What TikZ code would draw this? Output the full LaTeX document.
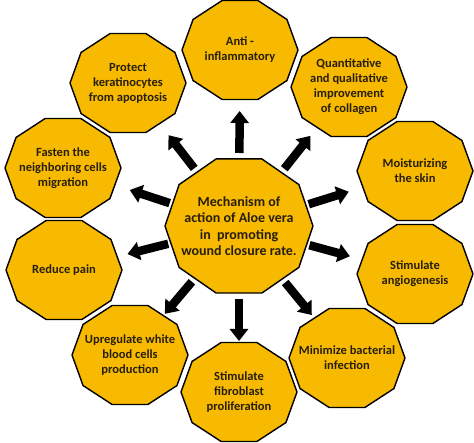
\documentclass[tikz,border=0pt]{standalone}
\usepackage{fontspec}
\setmainfont{Carlito}
\usetikzlibrary{arrows.meta,calc,backgrounds}
\definecolor{gold}{RGB}{247,186,0}
\definecolor{txt}{RGB}{40,30,12}
\begin{document}
\begin{tikzpicture}[x=1pt,y=-1pt,
  lbl/.style={align=center,font=\bfseries\fontsize{12.5}{15}\selectfont,text=txt},
  clbl/.style={align=center,font=\bfseries\fontsize{14}{16.4}\selectfont,text=txt},
  deca/.style={fill=gold,draw=black,line width=1.4pt,line join=miter},
  arr/.style={line width=8.5pt,-{Triangle[width=18pt,length=12pt]}}]
\useasboundingbox (0,0) rectangle (474,443);
\node[clbl] (c) at (239,226) {Mechanism of\\action of Aloe vera\\in \ promoting\\wound closure rate.};
\node[lbl] (anti) at (240,50) {Anti -\\inflammatory};
\node[lbl] (quant) at (349,87) {Quantitative\\and qualitative\\improvement\\of collagen};
\node[lbl] (moist) at (415,171) {Moisturizing\\the skin};
\node[lbl] (angio) at (415,274) {Stimulate\\angiogenesis};
\node[lbl] (bact) at (347,358) {Minimize bacterial\\infection};
\node[lbl] (fibro) at (239,392) {Stimulate\\fibroblast\\proliferation};
\node[lbl] (wbc) at (130,355) {Upregulate white\\blood cells\\production};
\node[lbl] (pain) at (64,270) {Reduce pain};
\node[lbl] (migr) at (63,168) {Fasten the\\neighboring cells\\migration};
\node[lbl] (prot) at (128,83) {Protect\\keratinocytes\\from apoptosis};
\begin{scope}[on background layer]
\foreach \n/\rx/\ry in {c/74/70.5,anti/58/52,quant/58/52,moist/58/52,angio/58/52,bact/58/52,fibro/58/52,wbc/58/52,pain/58/52,migr/58/52,prot/58/52}
  \draw[deca,shift={(\n)}] (\rx,0) \foreach \k in {1,...,9}{ -- ({\rx*cos(\k*36)},{\ry*sin(\k*36)})} -- cycle;
\end{scope}
\foreach \n in {anti,quant,moist,angio,bact,fibro,wbc,pain,migr,prot}
  \draw[arr] ($(c)!73pt!(\n)$) -- ($(c)!115pt!(\n)$);
\end{tikzpicture}
\end{document}
